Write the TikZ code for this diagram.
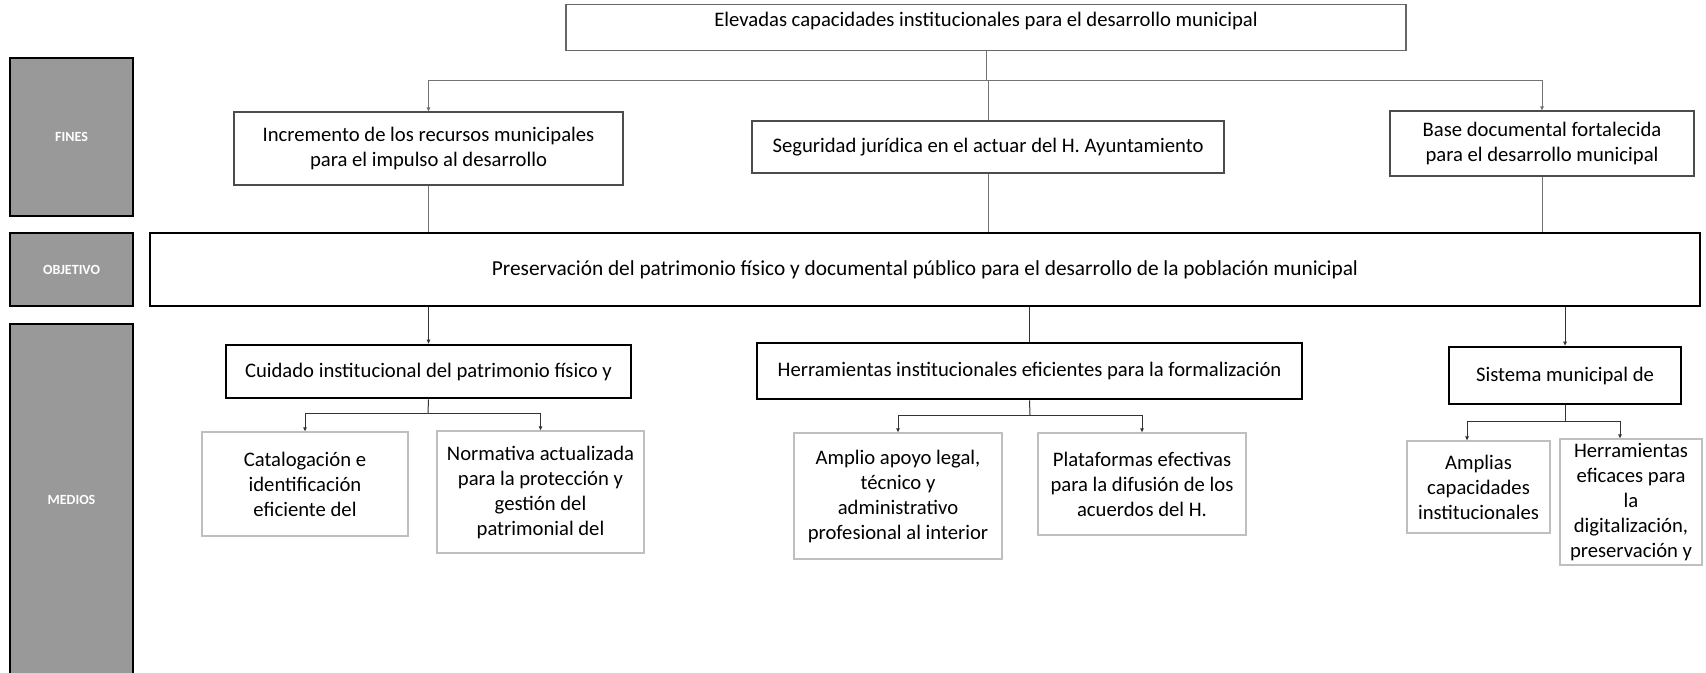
\documentclass[tikz,border=0pt]{standalone}
\usepackage{fontspec}
\setmainfont{Carlito}
\usetikzlibrary{arrows.meta}
\definecolor{labgray}{HTML}{999999}
\definecolor{subgray}{HTML}{BFBFBF}
\newcommand\myfs{\fontsize{15.5pt}{18.75pt}\selectfont}
\newcommand\mybox[7]{%
  \pgfmathsetmacro\mywd{(#4-#2)*0.75}%
  \pgfmathsetmacro\myht{(#5-#3)*0.75}%
  \node[#6, minimum width=\mywd pt, minimum height=\myht pt] (#1) at ({(#2+#4)/2},{(#3+#5)/2}) {#7};}
\begin{document}
\begin{tikzpicture}[x=0.75pt,y=-0.75pt,
  labbox/.style={fill=labgray, draw=black, line width=1pt, text=white, inner sep=0pt,
    font=\fontsize{10.5pt}{12pt}\selectfont\bfseries},
  finbox/.style={draw=black!70, line width=0.8pt, fill=white, align=center, inner sep=0pt, font=\myfs},
  objbox/.style={draw=black, line width=1.1pt, inner sep=0pt, font=\fontsize{16pt}{19pt}\selectfont},
  medbox/.style={draw=black, line width=2pt, inner sep=0pt, font=\myfs},
  subbox/.style={draw=subgray, line width=1pt, inner sep=0pt, align=center, font=\myfs},
  conn/.style={draw=black!55, line width=0.75pt},
  conntwo/.style={draw=black!80, line width=0.75pt},
  arr/.style={-{Triangle[length=3pt,width=2.6pt]}}]
\clip (0,0) rectangle (1706,672);
\fill[white] (0,0) rectangle (1706,672);
% side labels
\mybox{lfin}{10}{58}{133}{216}{labbox}{FINES}
\mybox{lobj}{10}{233}{133}{306}{labbox}{OBJETIVO}
\mybox{lmed}{10}{324}{133}{676}{labbox}{MEDIOS}
% top box
\node[draw=black!60, line width=1pt, inner xsep=0pt, inner ysep=0pt, minimum width=630pt,
  text height=16.5pt, text depth=18pt, anchor=north, font=\myfs] (T) at (986,4)
  {Elevadas capacidades institucionales para el desarrollo municipal};
% fines
\mybox{F1}{234}{112}{623}{185}{finbox}{Incremento de los recursos municipales\\para el impulso al desarrollo}
\mybox{F2}{752}{121}{1224}{173}{finbox}{Seguridad jurídica en el actuar del H. Ayuntamiento}
\mybox{F3}{1390}{111}{1694}{176}{finbox}{Base documental fortalecida\\para el desarrollo municipal}
% objetivo
\mybox{O}{150}{233}{1700}{306}{objbox}{Preservación del patrimonio físico y documental público para el desarrollo de la población municipal}
% medios
\mybox{M1}{226}{345}{631}{398}{medbox}{Cuidado institucional del patrimonio físico y}
\mybox{M2}{757}{343}{1302}{399}{medbox}{Herramientas institucionales eficientes para la formalización}
\mybox{M3}{1449}{347}{1681}{404}{medbox}{Sistema municipal de}
% sub-medios
\mybox{S1}{202}{432}{408}{536}{subbox}{Catalogación e\\identificación\\eficiente del}
\mybox{S2}{437}{431}{644}{553}{subbox}{Normativa actualizada\\para la protección y\\gestión del\\patrimonial del}
\mybox{S3}{794}{433}{1002}{559}{subbox}{Amplio apoyo legal,\\técnico y\\administrativo\\profesional al interior}
\mybox{S4}{1038}{433}{1246}{535}{subbox}{Plataformas efectivas\\para la difusión de los\\acuerdos del H.}
\mybox{S5}{1407}{441}{1550}{533}{subbox}{Amplias\\capacidades\\institucionales}
\mybox{S6}{1560}{439}{1702}{565}{subbox}{Herramientas\\eficaces para\\la\\digitalización,\\preservación y}
% connectors top
\coordinate (J) at (986,80);
\draw[conn] (T.south) -- (J);
\draw[conn,arr] (J) -| (F1.north);
\draw[conn,arr] (J) -| (F3.north);
\draw[conn] (F2.north |- J) -- (F2.north);
\draw[conn] (F1.south) -- (F1.south |- O.north);
\draw[conn] (F2.south) -- (F2.south |- O.north);
\draw[conn] (F3.south) -- (F3.south |- O.north);
% connectors bottom
\draw[conntwo,arr] (O.south -| M1.north) -- (M1.north);
\draw[conntwo] (O.south -| M2.north) -- (M2.north);
\draw[conntwo,arr] (O.south -| M3.north) -- (M3.north);
\coordinate (B1) at (428,413);
\coordinate (B2) at (1030,415);
\coordinate (B3) at (1565,421);
\draw[conntwo] (M1.south) -- (B1);
\draw[conntwo,arr] (B1) -| (S1.north);
\draw[conntwo,arr] (B1) -| (S2.north);
\draw[conntwo] (M2.south) -- (B2);
\draw[conntwo,arr] (B2) -| (S3.north);
\draw[conntwo,arr] (B2) -| (S4.north);
\draw[conntwo] (M3.south) -- (B3);
\draw[conntwo,arr] (B3) -| ([xshift=-8.6pt]S5.north);
\draw[conntwo,arr] (B3) -| ([xshift=-8.25pt]S6.north);
\end{tikzpicture}
\end{document}
